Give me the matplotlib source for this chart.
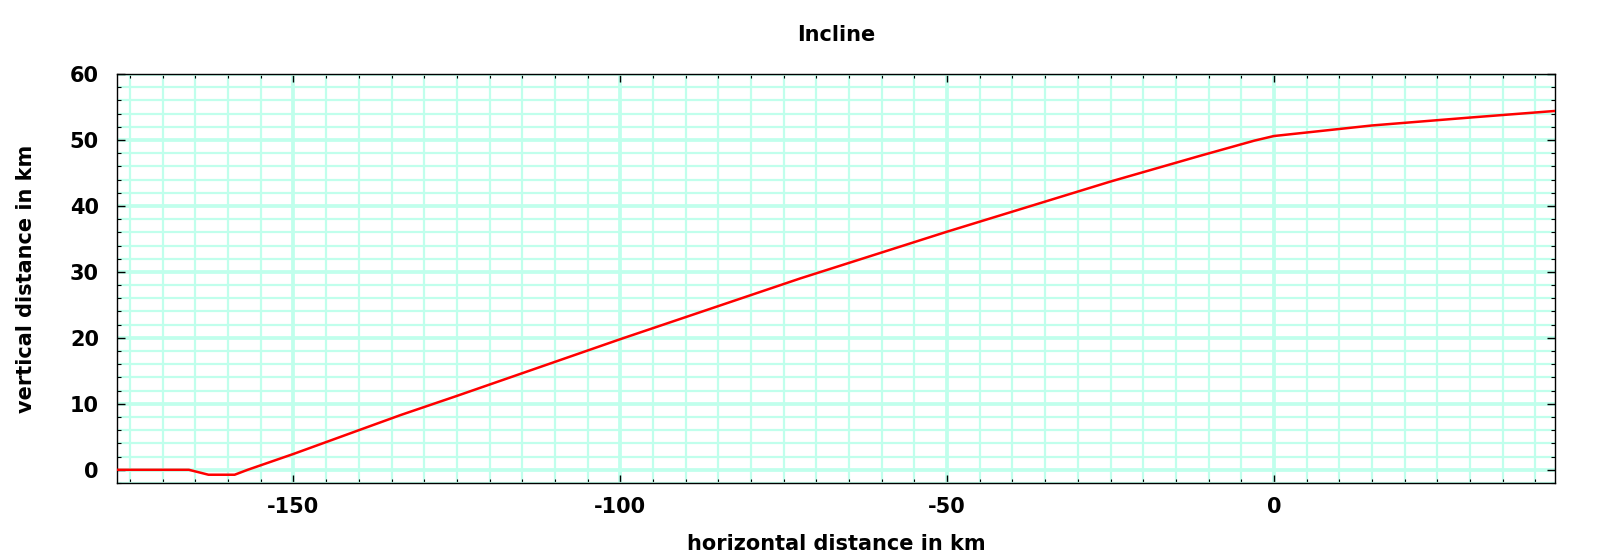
"""Profil de pantă: distanța verticală în funcție de distanța orizontală."""

import matplotlib
matplotlib.use("Agg")
import matplotlib.pyplot as plt
from matplotlib.ticker import MultipleLocator

# Puncte (km)
distanta_orizontala = [-177, -166, -163, -159, -157, -150, -140, -133.6, -125, -100,
                       -72.5, -50, -25, -11.3, -3, 0, 15, 30, 43]
distanta_verticala = [0, 0, -0.75, -0.75, 0, 2.4, 6.0, 8.3, 11.2, 19.8,
                      29.0, 36.1, 43.7, 47.6, 49.9, 50.6, 52.2, 53.4, 54.4]

culoare_grila = '#c0ffec'

plt.rcParams['font.family'] = ['DejaVu Sans']
plt.rcParams['font.weight'] = 'bold'
plt.rcParams['axes.unicode_minus'] = False

fig = plt.figure(figsize=(16, 5.59), dpi=100)
ax = fig.add_axes([0.0731, 0.136, 0.8988, 0.7316])

ax.plot(distanta_orizontala, distanta_verticala, color='red', linewidth=1.8, zorder=3)

ax.set_xlim(-177, 43)
ax.set_ylim(-2, 60)

ax.xaxis.set_major_locator(MultipleLocator(50))
ax.xaxis.set_minor_locator(MultipleLocator(5))
ax.yaxis.set_major_locator(MultipleLocator(10))
ax.yaxis.set_minor_locator(MultipleLocator(2))

# grila în stil gnuplot
ax.grid(True, which='major', color=culoare_grila, linewidth=2.7, zorder=0)
ax.grid(True, which='minor', color=culoare_grila, linewidth=1.6, zorder=0)
ax.set_axisbelow(True)

ax.tick_params(which='both', direction='in', top=True, right=True, colors='black')
ax.tick_params(which='major', length=6, width=1)
ax.tick_params(which='minor', length=3, width=0.8)
ax.tick_params(axis='x', which='major', pad=10, labelsize=15)
ax.tick_params(axis='y', which='major', pad=13, labelsize=15)
for eticheta in ax.get_xticklabels() + ax.get_yticklabels():
    eticheta.set_fontweight('bold')

for spine in ax.spines.values():
    spine.set_color('black')
    spine.set_linewidth(1)

ax.set_title("Incline", fontsize=15, fontweight='bold', pad=24)
ax.set_xlabel("horizontal distance in km", fontsize=15, fontweight='bold', labelpad=12)
ax.set_ylabel("vertical distance in km", fontsize=15, fontweight='bold', labelpad=24)

plt.savefig("out.png", dpi=100)
plt.close()
